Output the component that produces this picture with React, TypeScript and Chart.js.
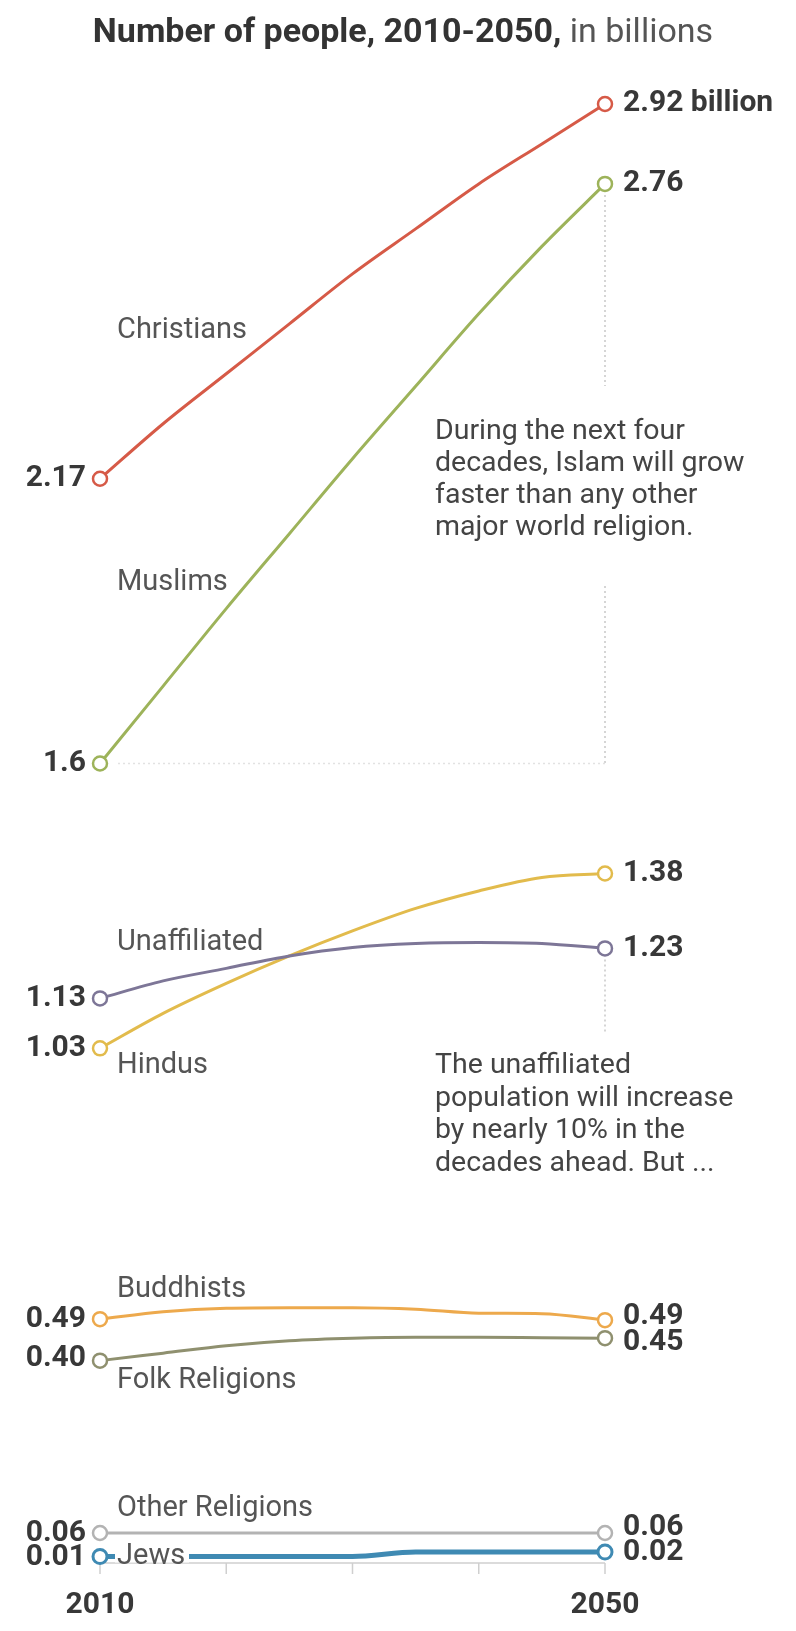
import React, { useEffect, useRef } from 'react';
import { Chart, registerables } from 'chart.js';

Chart.register(...registerables);

// ---- Data (billions) ----
const years = [2010, 2015, 2020, 2025, 2030, 2035, 2040, 2045, 2050];
const christians = [2.17, 2.28, 2.38, 2.48, 2.58, 2.67, 2.76, 2.84, 2.92];
const muslims = [1.6, 1.755, 1.91, 2.06, 2.21, 2.355, 2.5, 2.635, 2.76];
const unaffiliated = [1.13, 1.165, 1.19, 1.215, 1.232, 1.24, 1.242, 1.24, 1.23];
const hindus = [1.03, 1.1, 1.16, 1.215, 1.265, 1.31, 1.345, 1.372, 1.38];
const buddhists = [0.488, 0.503, 0.51, 0.511, 0.511, 0.508, 0.5, 0.499, 0.486];
const folkReligions = [0.405, 0.42, 0.435, 0.445, 0.45, 0.452, 0.452, 0.451, 0.45];
const otherReligions = [0.06, 0.06, 0.06, 0.06, 0.06, 0.06, 0.06, 0.06, 0.06];
const jews = [0.013, 0.013, 0.013, 0.013, 0.013, 0.022, 0.022, 0.022, 0.022];

const seriesNames = ['Christians', 'Muslims', 'Unaffiliated', 'Hindus', 'Buddhists', 'Folk Religions', 'Other Religions', 'Jews'];
const startLabels = ['2.17', '1.6', '1.13', '1.03', '0.49', '0.40', '0.06', '0.01'];
const endLabels = ['2.92 billion', '2.76', '1.23', '1.38', '0.49', '0.45', '0.06', '0.02'];
const tickYears = [2010, 2020, 2030, 2040, 2050];
const axisLabelYears = [2010, 2050];
const titleBold = 'Number of people, 2010-2050,';
const titleRest = ' in billions';
const note1 = ['During the next four', 'decades, Islam will grow', 'faster than any other', 'major world religion.'];
const note2 = ['The unaffiliated', 'population will increase', 'by nearly 10% in the', 'decades ahead. But ...'];

// ---- Styles ----
const seriesValues = [christians, muslims, unaffiliated, hindus, buddhists, folkReligions, otherReligions, jews];
const colors = ['#d65a47', '#9db35a', '#7d7697', '#e2bb4c', '#eda94c', '#8f906f', '#b3b3b3', '#3f8ab3'];
const widths = [3, 3, 3, 3, 3, 3, 3, 5];
// label layout (pixel y for series names, offsets for value labels)
const nameY = [331, 583, 943, 1066, 1290, 1381, 1509, 1557];
const startDy = [0, 0, 0, 0, 0, -2, 0, 1];
const endDy = [0, 0, 0, 0, -4, 4, -6, 0];

const FONT = 'Roboto, "Liberation Sans", sans-serif';

const overlay = {
  id: 'overlay',
  beforeDatasetsDraw(chart: any) {
    const { ctx } = chart;
    const xs = chart.scales.x;
    const ys = chart.scales.y;
    const x0 = xs.getPixelForValue(2010);
    const x1 = xs.getPixelForValue(2050);
    ctx.save();
    // baseline and ticks
    const yb = ys.getPixelForValue(0);
    ctx.strokeStyle = '#cfcfcf';
    ctx.lineWidth = 1.5;
    ctx.beginPath();
    ctx.moveTo(x0, yb);
    ctx.lineTo(x1, yb);
    ctx.stroke();
    tickYears.forEach((yr) => {
      const x = xs.getPixelForValue(yr);
      ctx.beginPath();
      ctx.moveTo(x, yb);
      ctx.lineTo(x, yb + 11);
      ctx.stroke();
    });
    // dotted guides
    ctx.strokeStyle = '#c8c8c8';
    ctx.lineWidth = 1.5;
    ctx.setLineDash([2, 3]);
    ctx.beginPath();
    ctx.moveTo(x1, ys.getPixelForValue(muslims[8]) + 11);
    ctx.lineTo(x1, 386);
    ctx.moveTo(x1, 586);
    ctx.lineTo(x1, ys.getPixelForValue(muslims[0]));
    ctx.moveTo(x1, ys.getPixelForValue(unaffiliated[8]) + 11);
    ctx.lineTo(x1, 1034);
    ctx.stroke();
    ctx.strokeStyle = '#e2e2e2';
    ctx.beginPath();
    ctx.moveTo(x0 + 18, ys.getPixelForValue(muslims[0]));
    ctx.lineTo(x1, ys.getPixelForValue(muslims[0]));
    ctx.stroke();
    ctx.restore();
  },
  afterDatasetsDraw(chart: any) {
    const { ctx } = chart;
    const xs = chart.scales.x;
    const ys = chart.scales.y;
    const x0 = xs.getPixelForValue(2010);
    const x1 = xs.getPixelForValue(2050);
    ctx.save();
    ctx.textBaseline = 'middle';

    // Jews label gap in the line
    ctx.fillStyle = '#ffffff';
    const jy = ys.getPixelForValue(jews[0]);
    ctx.fillRect(x0 + 15, jy - 6, 74, 12);

    // series names
    ctx.font = `400 29px ${FONT}`;
    ctx.fillStyle = '#555555';
    ctx.textAlign = 'left';
    seriesNames.forEach((n, i) => {
      ctx.fillText(n, x0 + 17, nameY[i]);
    });

    // values
    ctx.font = `700 30px ${FONT}`;
    ctx.fillStyle = '#383838';
    seriesValues.forEach((vals, i) => {
      ctx.textAlign = 'right';
      ctx.fillText(startLabels[i], x0 - 14, ys.getPixelForValue(vals[0]) + startDy[i]);
      ctx.textAlign = 'left';
      ctx.fillText(endLabels[i], x1 + 18, ys.getPixelForValue(vals[vals.length - 1]) + endDy[i]);
    });

    // axis labels
    ctx.textAlign = 'center';
    axisLabelYears.forEach((yr) => {
      ctx.fillText(String(yr), xs.getPixelForValue(yr), 1605);
    });

    // notes
    ctx.font = `400 28.5px ${FONT}`;
    ctx.fillStyle = '#444444';
    ctx.textAlign = 'left';
    note1.forEach((t, i) => ctx.fillText(t, 435, 432 + i * 32));
    note2.forEach((t, i) => ctx.fillText(t, 435, 1066 + i * 32.5));

    // title
    ctx.font = `700 34px ${FONT}`;
    const wb = ctx.measureText(titleBold).width;
    ctx.font = `400 34px ${FONT}`;
    const wr = ctx.measureText(titleRest).width;
    const tx = 403 - (wb + wr) / 2;
    ctx.font = `700 34px ${FONT}`;
    ctx.fillStyle = '#333333';
    ctx.fillText(titleBold, tx, 33);
    ctx.font = `400 34px ${FONT}`;
    ctx.fillStyle = '#555555';
    ctx.fillText(titleRest, tx + wb, 33);
    ctx.restore();
  },
};

export default function App() {
  const ref = useRef<HTMLCanvasElement | null>(null);
  useEffect(() => {
    if (!ref.current) return;
    const last = years.length - 1;
    const chart = new Chart(ref.current, {
      type: 'line',
      data: {
        datasets: seriesValues.map((vals, i) => ({
          label: seriesNames[i],
          data: vals.map((v, k) => ({ x: years[k], y: v })),
          borderColor: colors[i],
          borderWidth: widths[i],
          backgroundColor: '#ffffff',
          pointBackgroundColor: '#ffffff',
          pointBorderColor: colors[i],
          pointBorderWidth: i === 7 ? 3 : 2.5,
          pointRadius: (c: any) => (c.dataIndex === 0 || c.dataIndex === last ? 7 : 0),
          pointHoverRadius: 0,
          cubicInterpolationMode: 'monotone' as const,
          fill: false,
          clip: false as any,
        })),
      },
      options: {
        animation: false,
        responsive: false,
        devicePixelRatio: 1,
        layout: { padding: { left: 100, right: 191, top: 64, bottom: 68 } },
        scales: {
          x: { type: 'linear', min: 2010, max: 2050, display: false },
          y: { type: 'linear', min: 0, max: 3.0, display: false },
        },
        plugins: { legend: { display: false }, tooltip: { enabled: false } },
        events: [],
      },
      plugins: [overlay],
    });
    return () => chart.destroy();
  }, []);
  return (
    <div style={{ position: 'absolute', left: 0, top: 0, width: 796, height: 1631, background: '#fff' }}>
      <canvas ref={ref} width={796} height={1631} style={{ display: 'block', width: 796, height: 1631 }} />
    </div>
  );
}
